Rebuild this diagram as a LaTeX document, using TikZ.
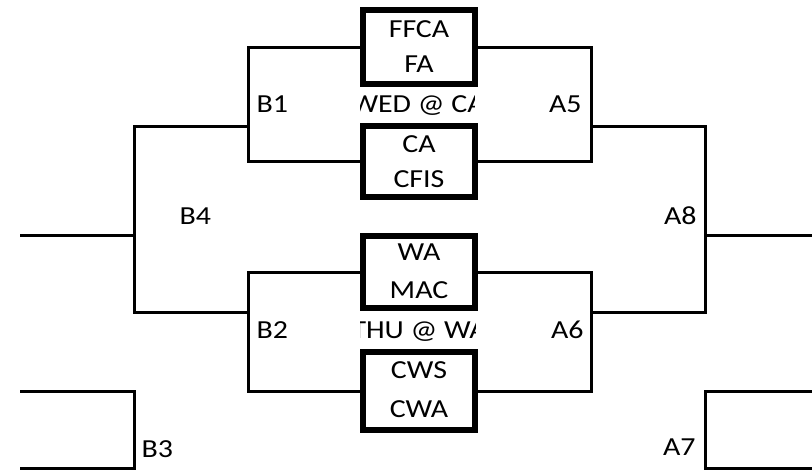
\documentclass[tikz,border=0pt]{standalone}
\usepackage{fontspec}
\setmainfont{Carlito}[FakeStretch=1.15]
\usepackage{tikz}

\begin{document}
\begin{tikzpicture}[x=0.75pt,y=-0.75pt,line width=2.25pt,
  every node/.style={font=\fontsize{19.5}{23}\selectfont,inner sep=0pt},
  game/.style={draw,line width=4.5pt,minimum width=84pt},
  team/.style={anchor=base},
  seed/.style={anchor=base west},
  rseed/.style={anchor=base east}]
\useasboundingbox (0,0) rectangle (812,469);
% game boxes
\node [game,minimum height=55.5pt] (g1) at (419,47) {};
\node [game,minimum height=53.25pt] (g2) at (419,161) {};
\node [game,minimum height=54pt] (g3) at (419,272) {};
\node [game,minimum height=58.5pt] (g4) at (419,391) {};
\node [team] (t1) at (419,37) {FFCA};
\node [team] (t2) at (419,72) {FA};
\node [team] (t3) at (419,152) {CA};
\node [team] (t4) at (419,187) {CFIS};
\node [team] (t5) at (419,260) {WA};
\node [team] (t6) at (419,298) {MAC};
\node [team] (t7) at (419,378) {CWS};
\node [team] (t8) at (419,417) {CWA};
\begin{scope}
  \clip (360,86) rectangle (474,122);
  \node [seed] (wed) at (350,112) {WED @ CA};
\end{scope}
\begin{scope}
  \clip (360,311) rectangle (475,348);
  \node [seed] (thu) at (350,338) {THU @ WA};
\end{scope}
% bracket corners
\coordinate (b1) at (248,126);
\coordinate (b2) at (248,312);
\coordinate (b4) at (134,235);
\coordinate (b3) at (134,430);
\coordinate (a5) at (591,126);
\coordinate (a6) at (591,312);
\coordinate (a8) at (705,235);
\coordinate (a7) at (705,430);
\coordinate (sl) at (20,235);
\coordinate (sr) at (812,235);
\coordinate (b3t) at (20,391);
\coordinate (b3b) at (20,468);
\coordinate (a7t) at (812,391);
\coordinate (a7b) at (812,468);
\draw (g1.west) -| (b1) |- (g2.west);
\draw (g3.west) -| (b2) |- (g4.west);
\draw (b1) -| (b4) |- (b2);
\draw (b4) -- (sl);
\draw (b3t) -| (b3) |- (b3b);
\draw (g1.east) -| (a5) |- (g2.east);
\draw (g3.east) -| (a6) |- (g4.east);
\draw (a5) -| (a8) |- (a6);
\draw (a8) -- (sr);
\draw (a7t) -| (a7) |- (a7b);
% seeds
\node [seed] (lb1) at (255,112) {B1};
\node [seed] (lb2) at (255,338) {B2};
\node [seed] (lb3) at (140,457) {B3};
\node [seed] (lb4) at (178,224) {B4};
\node [rseed] (la5) at (583,112) {A5};
\node [rseed] (la6) at (585,338) {A6};
\node [rseed] (la7) at (697,455) {A7};
\node [rseed] (la8) at (698,224) {A8};
\end{tikzpicture}
\end{document}
